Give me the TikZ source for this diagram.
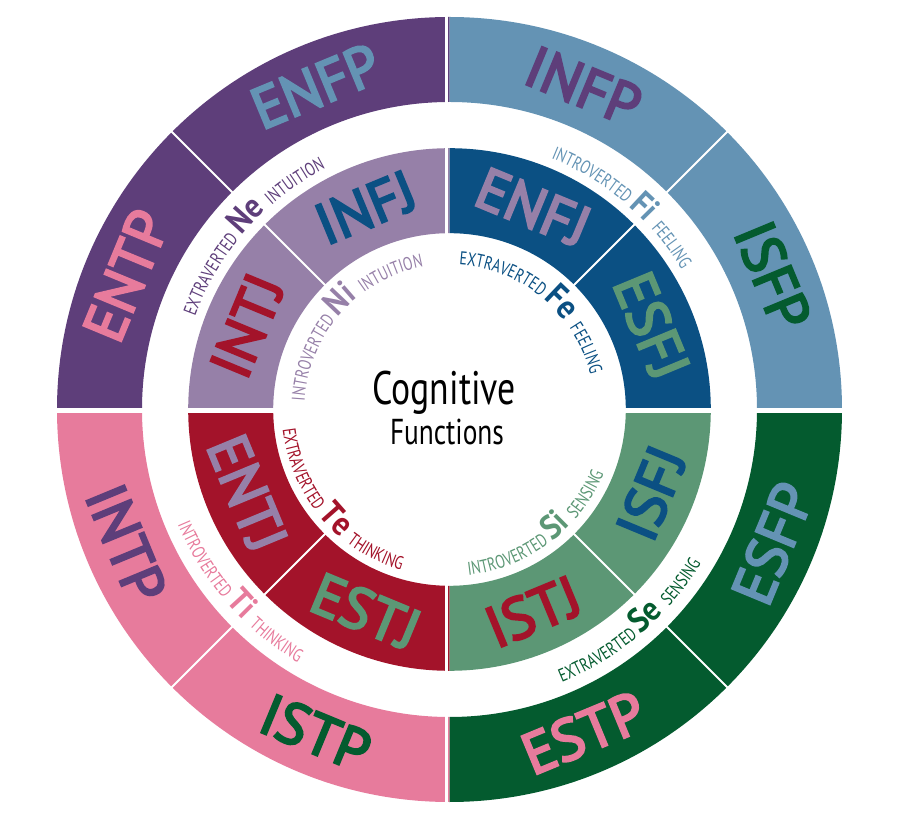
\documentclass[tikz,border=0pt]{standalone}
\usepackage{fontspec}
\usepackage{xcolor}
\usepackage{tikz}
\usetikzlibrary{
    positioning,
    decorations.text
}
\setmainfont{PT Sans}
\newfontfamily\condfont{PT Sans}[FakeStretch=0.76]
\newfontfamily\abbrfont{PT Sans}[FakeStretch=0.9]
\newfontfamily\typefont{PT Sans}[FakeBold=4]
\newcommand{\fnsmall}{\condfont\fontsize{18.5}{20}\selectfont}
\newcommand{\fnbig}{\abbrfont\bfseries\fontsize{34}{36}\selectfont}
\definecolor{purpleDark}{RGB}{94, 62, 122}
\definecolor{purpleLight}{RGB}{150, 128, 168}
\definecolor{blueSteel}{RGB}{100, 147, 180}
\definecolor{blueDark}{RGB}{11, 80, 131}
\definecolor{pinkSoft}{RGB}{231, 123, 156}
\definecolor{crimson}{RGB}{163, 19, 42}
\definecolor{greenDark}{RGB}{4, 91, 47}
\definecolor{greenSage}{RGB}{92, 151, 117}
\tikzset{
    typelabel/.style={font=\typefont\fontsize{58}{60}\selectfont, inner sep=0pt},
    divider/.style={white, line width=2pt},
    funcpath/.style={decorate, decoration={text along path, text align=center, text color=#1}}
}

\begin{document}
\begin{tikzpicture}[x=1pt, y=1pt]
    \useasboundingbox (-449.5,-408.5) rectangle (449.5,409.5);

    \foreach \a/\outer/\inner in {90/purpleDark/purpleLight, 0/blueSteel/blueDark, 180/pinkSoft/crimson, 270/greenDark/greenSage} {
        \fill[\outer] (\a:307.5pt) arc[start angle=\a, end angle=\a+90, radius=307.5pt]
            -- ({\a+90}:392.5pt) arc[start angle=\a+90, end angle=\a, radius=392.5pt] -- cycle;
        \fill[\inner] (\a:176.3pt) arc[start angle=\a, end angle=\a+90, radius=176.3pt]
            -- ({\a+90}:261.3pt) arc[start angle=\a+90, end angle=\a, radius=261.3pt] -- cycle;
    }
    \foreach \a in {45,135,225,315} {
        \draw[divider] (\a:174pt) -- (\a:263pt);
        \draw[divider] (\a:305pt) -- (\a:395pt);
    }
    \draw[white, line width=2.5pt] (-3.2,-396) -- (-3.2,396);
    \draw[white, line width=5pt] (-396,-1.3) -- (396,-1.3);

    \foreach \name/\a/\r/\col in {
        ENFP/112.5/350pt/blueSteel, ENTP/157.5/350pt/pinkSoft, INFP/67.5/350pt/purpleDark, ISFP/22.5/350pt/greenDark,
        INTP/202.5/350pt/purpleDark, ISTP/247.5/350pt/greenDark, ESTP/292.5/350pt/pinkSoft, ESFP/337.5/350pt/blueSteel,
        INFJ/112.5/218.8pt/blueDark, INTJ/157.5/218.8pt/crimson, ENFJ/67.5/218.8pt/purpleLight, ESFJ/22.5/218.8pt/greenSage,
        ENTJ/202.5/218.8pt/purpleLight, ESTJ/247.5/218.8pt/greenSage, ISTJ/292.5/218.8pt/crimson, ISFJ/337.5/218.8pt/blueDark} {
        \pgfmathsetmacro{\rot}{\a<180 ? \a-90 : \a+90}
        \node[typelabel, text=\col, rotate=\rot] (\name) at (\a:\r) {\name};
    }

    \path[funcpath=purpleDark, decoration={text={|\fnsmall|EXTRAVERTED |\fnbig|Ne |\fnsmall|INTUITION}}]
        (193.5:271pt) arc[start angle=193.5, end angle=83.5, radius=271pt];
    \path[funcpath=purpleLight, decoration={text={|\fnsmall|INTROVERTED |\fnbig|Ni |\fnsmall|INTUITION}}]
        (193.5:145pt) arc[start angle=193.5, end angle=83.5, radius=145pt];
    \path[funcpath=blueSteel, decoration={text={|\fnsmall|INTROVERTED |\fnbig|Fi |\fnsmall|FEELING}}]
        (104.5:271pt) arc[start angle=104.5, end angle=-5.5, radius=271pt];
    \path[funcpath=blueDark, decoration={text={|\fnsmall|EXTRAVERTED |\fnbig|Fe |\fnsmall|FEELING}}]
        (105:145pt) arc[start angle=105, end angle=-5, radius=145pt];
    \path[funcpath=pinkSoft, decoration={text={|\fnsmall|INTROVERTED |\fnbig|Ti |\fnsmall|THINKING}}]
        (166:295pt) arc[start angle=166, end angle=276, radius=295pt];
    \path[funcpath=crimson, decoration={text={|\fnsmall|EXTRAVERTED |\fnbig|Te |\fnsmall|THINKING}}]
        (165:168pt) arc[start angle=165, end angle=275, radius=168pt];
    \path[funcpath=greenSage, decoration={text={|\fnsmall|INTROVERTED |\fnbig|Si |\fnsmall|SENSING}}]
        (252:167pt) arc[start angle=252, end angle=362, radius=167pt];
    \path[funcpath=greenDark, decoration={text={|\fnsmall|EXTRAVERTED |\fnbig|Se |\fnsmall|SENSING}}]
        (255.5:295pt) arc[start angle=255.5, end angle=365.5, radius=295pt];

    \node[font=\condfont\fontsize{47}{50}\selectfont, anchor=base, inner sep=0pt] (cognitive) at (-5.5,4.5) {Cognitive};
    \node[font=\condfont\fontsize{36}{40}\selectfont, anchor=base, inner sep=0pt] (functions) at (-2.5,-35.5) {Functions};
\end{tikzpicture}
\end{document}
